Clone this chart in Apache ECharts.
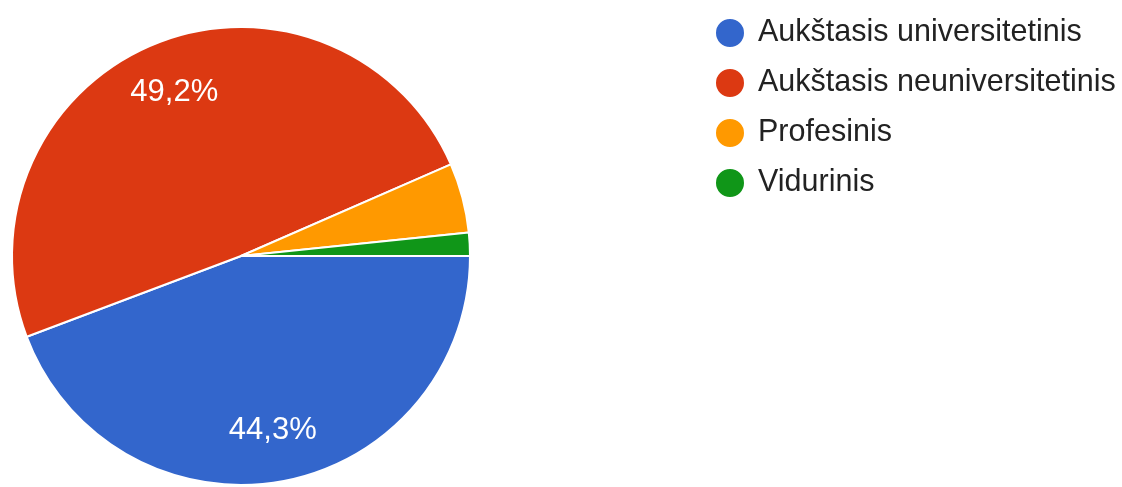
<!DOCTYPE html>
<html>
<head>
<meta charset="utf-8">
<script src="https://cdn.jsdelivr.net/npm/echarts@6/dist/echarts.min.js"></script>
<style>
  html, body { margin: 0; padding: 0; background: #fff; }
  #chart { width: 1122px; height: 487px; }
</style>
</head>
<body>
<div id="chart"></div>
<script>
// atsakymų skaičius (n = 61)
var categories = ['Aukštasis universitetinis', 'Aukštasis neuniversitetinis', 'Profesinis', 'Vidurinis'];
var counts = [27, 30, 3, 1];
var colors = ['#3366cc', '#dc3912', '#ff9900', '#109618'];

var pieData = categories.map(function (name, i) {
  return { name: name, value: counts[i] };
});

var chart = echarts.init(document.getElementById('chart'));
var center = [241, 256];
var radius = 229;

var option = {
  animation: false,
  color: colors,
  legend: {
    orient: 'vertical',
    left: 714,
    top: 17,
    padding: 0,
    itemWidth: 46,
    itemHeight: 30,
    itemGap: 18,
    icon: 'circle',
    data: categories,
    textStyle: {
      color: '#222',
      fontFamily: 'Liberation Sans, Arial, sans-serif',
      fontSize: 30.5
    }
  },
  series: [
    {
      // slices
      type: 'pie',
      center: center,
      radius: radius,
      startAngle: 0,
      clockwise: true,
      label: { show: false },
      labelLine: { show: false },
      itemStyle: { borderColor: '#fff', borderWidth: 2 },
      emphasis: { disabled: true },
      data: pieData
    },
    {
      // transparent ring only to put the % labels at ~3/4 radius
      type: 'pie',
      silent: true,
      center: center,
      radius: [radius * 0.52, radius],
      startAngle: 0,
      clockwise: true,
      itemStyle: { color: 'rgba(0,0,0,0)', borderWidth: 0 },
      labelLine: { show: false },
      label: {
        show: true,
        position: 'inside',
        color: '#fff',
        fontFamily: 'Liberation Sans, Arial, sans-serif',
        fontSize: 31,
        formatter: function (p) {
          if (p.percent < 5) return '';
          return p.percent.toFixed(1).replace('.', ',') + '%';
        }
      },
      emphasis: { disabled: true },
      data: pieData
    }
  ]
};
chart.setOption(option);
</script>
</body>
</html>
